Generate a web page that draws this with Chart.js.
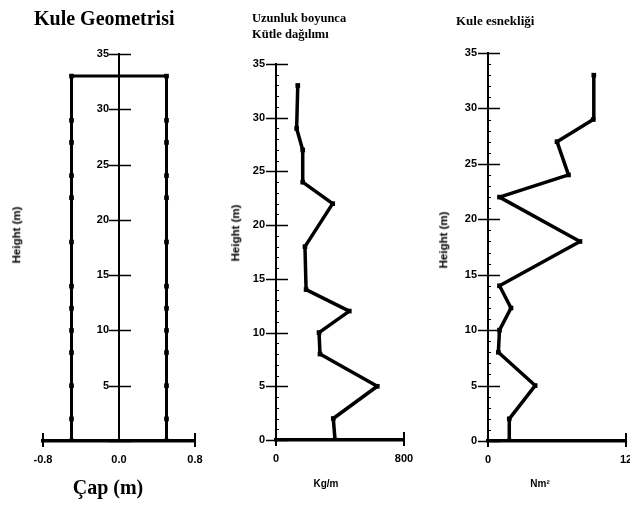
<!DOCTYPE html>
<html>
<head>
<meta charset="utf-8">
<script src="https://cdn.jsdelivr.net/npm/chart.js@4.4.1/dist/chart.umd.min.js"></script>
<style>
  body { margin: 0; background: #fff; }
  #sahne { position: relative; width: 630px; height: 507px; overflow: hidden; background: #fff; }
  canvas { position: absolute; top: 0; }
  .yazi { position: absolute; color: #000; white-space: nowrap; line-height: 1; }
  .serif { font-family: "Liberation Serif", "DejaVu Serif", serif; font-weight: bold; }
  .sans { font-family: "Liberation Sans", Arial, sans-serif; font-weight: bold; }
  .dik { transform: translate(-50%, -50%) rotate(-90deg); }
  .orta { transform: translate(-50%, -50%); }
</style>
</head>
<body>
<div id="sahne">
  <canvas id="grafCap" width="215" height="507" style="left:0px"></canvas>
  <canvas id="grafKutle" width="210" height="507" style="left:215px"></canvas>
  <canvas id="grafEsneklik" width="205" height="507" style="left:425px"></canvas>

  <div class="yazi serif" style="left:34px; top:8px; font-size:20px;">Kule Geometrisi</div>
  <div class="yazi serif" style="left:252px; top:12px; font-size:12.5px;">Uzunluk boyunca</div>
  <div class="yazi serif" style="left:252px; top:28px; font-size:12.5px;">Kütle dağılımı</div>
  <div class="yazi serif" style="left:456px; top:14px; font-size:13px;">Kule esnekliği</div>

  <div class="yazi sans dik" style="left:17px; top:235px; font-size:11.5px;">Height (m)</div>
  <div class="yazi sans dik" style="left:236px; top:233px; font-size:11.5px;">Height (m)</div>
  <div class="yazi sans dik" style="left:444px; top:240px; font-size:11.5px;">Height (m)</div>

  <div class="yazi serif orta" style="left:108px; top:487px; font-size:20px;">Çap (m)</div>
  <div class="yazi sans orta" style="left:326px; top:484px; font-size:10px;">Kg/m</div>
  <div class="yazi sans orta" style="left:540px; top:484px; font-size:10px;">Nm²</div>
</div>

<script>
// yükseklikler (m) - üç grafikte ortak
var yukseklik = [0, 2, 5, 8, 10, 12, 14, 18, 22, 24, 27, 29, 33];
// kule yarıçapı (m)
var yaricap = [0.5, 0.5, 0.5, 0.5, 0.5, 0.5, 0.5, 0.5, 0.5, 0.5, 0.5, 0.5, 0.5];
// kütle dağılımı (kg/m)
var kutle = [369, 358, 633, 275, 269, 458, 188, 181, 354, 167, 167, 129, 136];
// esneklik
var esneklik = [1.85, 1.85, 4.1, 0.9, 1.0, 2.0, 1.0, 8.0, 1.0, 7.0, 6.0, 9.15, 9.2];

// eksen tikleri
var yTikler = [0, 5, 10, 15, 20, 25, 30, 35];
var capTikler = [-0.8, 0, 0.8];
var kutleTikler = [0, 800];
var esneklikTikler = [0, 12];

var tikFont = { family: "'Liberation Sans', Arial, sans-serif", size: 11, weight: 'bold' };

/* kesişen tik çizgileri (ve ortadaki eksenin etiketleri) */
var tikCizgileri = {
	id: 'tikCizgileri',
	beforeDatasetsDraw: function(chart, args, opts) {
		var ctx = chart.ctx;
		var xs = chart.scales.x, ys = chart.scales.y;
		var area = chart.chartArea;
		var ortada = (opts.yEkseniDeger !== undefined);
		var eksenX = ortada ? xs.getPixelForValue(opts.yEkseniDeger) : area.left;
		ctx.save();
		ctx.strokeStyle = '#000';
		ctx.lineWidth = 1.5;
		ys.ticks.forEach(function(t) {
			var py = Math.round(ys.getPixelForValue(t.value)) + 0.5;
			ctx.beginPath();
			ctx.moveTo(eksenX - 10, py);
			ctx.lineTo(eksenX + 12, py);
			ctx.stroke();
		});
		if (ortada) {
			// ortadaki eksende etiketleri sola yaz
			ctx.fillStyle = '#000';
			ctx.font = 'bold 11px "Liberation Sans", Arial, sans-serif';
			ctx.textAlign = 'right';
			ctx.textBaseline = 'middle';
			ys.ticks.forEach(function(t) {
				if (t.value === 0) return;
				ctx.fillText(String(t.value), eksenX - 10, ys.getPixelForValue(t.value));
			});
		}
		if (opts.araTik) {
			ctx.lineWidth = 1;
			for (var v = ys.min; v <= ys.max; v++) {
				var py2 = Math.round(ys.getPixelForValue(v)) + 0.5;
				ctx.beginPath();
				ctx.moveTo(eksenX, py2);
				ctx.lineTo(eksenX + 3, py2);
				ctx.stroke();
			}
		}
		ctx.lineWidth = 2;
		xs.ticks.forEach(function(t) {
			if (ortada && t.value === opts.yEkseniDeger) return;
			var px = xs.getPixelForValue(t.value);
			ctx.beginPath();
			ctx.moveTo(px, area.bottom - 8);
			ctx.lineTo(px, area.bottom + 6);
			ctx.stroke();
		});
		ctx.restore();
	}
};

function noktalar(xler) {
	var arr = [];
	for (var i = 0; i < yukseklik.length; i++) {
		arr.push({ x: xler[i], y: yukseklik[i] });
	}
	return arr;
}

function ciz(id, veri, xOpts, yOpts, padding, eklenti, kalinlik) {
	var ctx = document.getElementById(id).getContext('2d');
	return new Chart(ctx, {
		type: 'scatter',
		data: {
			datasets: [{
				data: veri,
				showLine: true,
				borderColor: '#000',
				backgroundColor: '#000',
				borderWidth: kalinlik,
				borderJoinStyle: 'round',
				borderCapStyle: 'round',
				tension: 0,
				pointStyle: 'rect',
				pointRadius: 3.3,
				pointBorderWidth: 0,
				pointBackgroundColor: '#000'
			}]
		},
		options: {
			responsive: false,
			animation: false,
			devicePixelRatio: 1,
			layout: { padding: padding },
			plugins: {
				legend: { display: false },
				tooltip: { enabled: false },
				tikCizgileri: eklenti
			},
			scales: { x: xOpts, y: yOpts }
		},
		plugins: [tikCizgileri]
	});
}

function xEkseni(min, max, tikler, yukseklikPx, bicim) {
	return {
		type: 'linear',
		min: min,
		max: max,
		afterBuildTicks: function(s) { s.ticks = tikler.map(function(v) { return { value: v }; }); },
		afterFit: function(s) { s.height = yukseklikPx; s.paddingLeft = 0; s.paddingRight = 0; },
		grid: { display: true, drawOnChartArea: false, drawTicks: false },
		border: { display: true, color: '#000', width: 3.5 },
		ticks: {
			padding: 12,
			color: '#000',
			font: tikFont,
			maxRotation: 0,
			autoSkip: false,
			callback: bicim
		}
	};
}

function yEkseni(konum, genislik, etiketGoster) {
	return {
		type: 'linear',
		position: konum,
		min: 0,
		max: 35,
		afterBuildTicks: function(s) { s.ticks = yTikler.map(function(v) { return { value: v }; }); },
		afterFit: function(s) { s.width = genislik; s.paddingTop = 0; s.paddingBottom = 0; },
		grid: { display: true, drawOnChartArea: false, drawTicks: false },
		border: { display: true, color: '#000', width: 2 },
		ticks: {
			display: etiketGoster,
			padding: 11,
			color: '#000',
			font: tikFont,
			autoSkip: false
		}
	};
}

// Kule geometrisi: sol kenar aşağıdan yukarı, sağ kenar yukarıdan aşağı
var sol = noktalar(yaricap.map(function(r) { return -r; }));
var sag = noktalar(yaricap).reverse();
var geometri = sol.concat(sag);

ciz('grafCap', geometri,
	xEkseni(-0.8, 0.8, capTikler, 66, function(v) { return Number(v).toFixed(1); }),
	yEkseni({ x: 0 }, 0, false),
	{ left: 43, right: 20, top: 54, bottom: 0 },
	{ yEkseniDeger: 0, araTik: false }, 3);

ciz('grafKutle', noktalar(kutle),
	xEkseni(0, 800, kutleTikler, 67, function(v) { return String(v); }),
	yEkseni('left', 61, true),
	{ left: 0, right: 21, top: 64, bottom: 0 },
	{ araTik: true }, 3.5);

ciz('grafEsneklik', noktalar(esneklik),
	xEkseni(0, 12, esneklikTikler, 66, function(v) { return String(v); }),
	yEkseni('left', 63, true),
	{ left: 0, right: 4, top: 53, bottom: 0 },
	{ araTik: true }, 3.5);
</script>
</body>
</html>
